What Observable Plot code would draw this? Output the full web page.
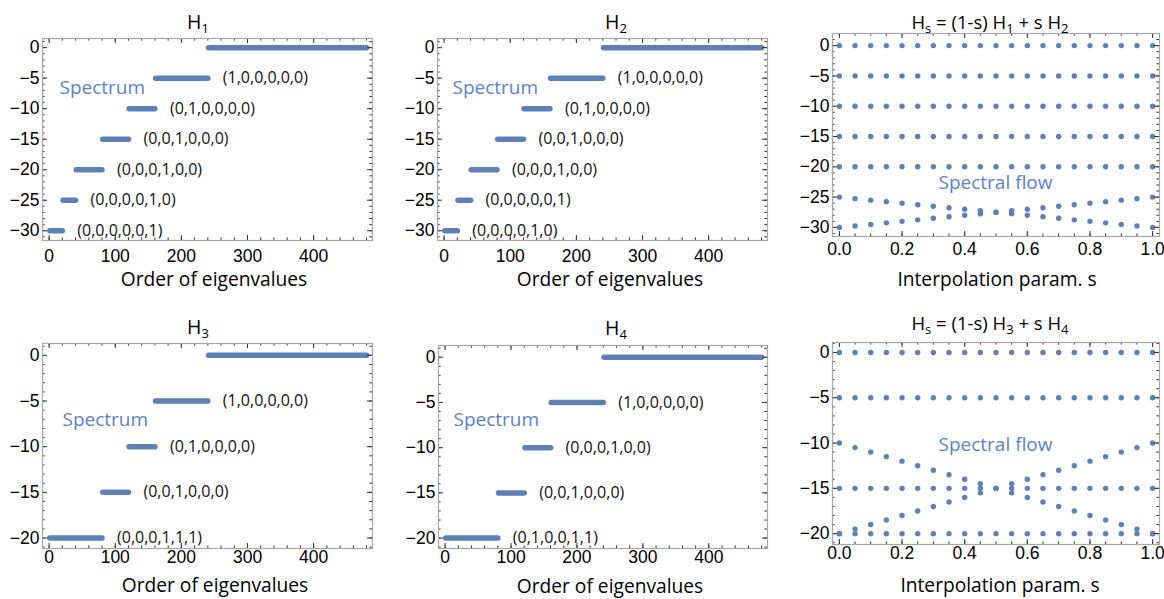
<!DOCTYPE html>
<html><head><meta charset="utf-8">
<script src="https://cdn.jsdelivr.net/npm/d3@7"></script>
<script src="https://cdn.jsdelivr.net/npm/@observablehq/plot@0.6"></script>
<style>
body{margin:0;background:#fff;}
#root{position:relative;width:1164px;height:599px;overflow:hidden;background:#fff;}
</style></head><body><div id="root"></div>
<script>
// ---------- data ----------
const sValues = [0,0.05,0.1,0.15,0.2,0.25,0.3,0.35,0.4,0.45,0.5,0.55,0.6,0.65,0.7,0.75,0.8,0.85,0.9,0.95,1];

const h1Levels = [0,-5,-10,-15,-20,-25,-30];
const h1Start  = [241,161,121,81,41,21,1];
const h1End    = [480,240,160,120,80,40,20];
const h1Labels = ["","(1,0,0,0,0,0)","(0,1,0,0,0,0)","(0,0,1,0,0,0)","(0,0,0,1,0,0)","(0,0,0,0,1,0)","(0,0,0,0,0,1)"];
const h2Labels = ["","(1,0,0,0,0,0)","(0,1,0,0,0,0)","(0,0,1,0,0,0)","(0,0,0,1,0,0)","(0,0,0,0,0,1)","(0,0,0,0,1,0)"];

const h3Levels = [0,-5,-10,-15,-20];
const h3Start  = [241,161,121,81,1];
const h3End    = [480,240,160,120,80];
const h3Labels = ["","(1,0,0,0,0,0)","(0,1,0,0,0,0)","(0,0,1,0,0,0)","(0,0,0,1,1,1)"];
const h4Labels = ["","(1,0,0,0,0,0)","(0,0,0,1,0,0)","(0,0,1,0,0,0)","(0,1,0,0,1,1)"];

const flow1Flat  = [0,-5,-10,-15,-20];
const flow1Upper = [-25,-25.25,-25.5,-25.75,-26,-26.25,-26.5,-26.75,-27,-27.25,-27.5,-27.25,-27,-26.75,-26.5,-26.25,-26,-25.75,-25.5,-25.25,-25];
const flow1Lower = [-30,-29.75,-29.5,-29.25,-29,-28.75,-28.5,-28.25,-28,-27.75,-27.5,-27.75,-28,-28.25,-28.5,-28.75,-29,-29.25,-29.5,-29.75,-30];

const flow2Flat = [0,-5,-15,-20];
const flow2Down = [-10,-10.5,-11,-11.5,-12,-12.5,-13,-13.5,-14,-14.5,-15,-14.5,-14,-13.5,-13,-12.5,-12,-11.5,-11,-10.5,-10];
const flow2Up   = [-20,-19.5,-19,-18.5,-18,-17.5,-17,-16.5,-16,-15.5,-15,-15.5,-16,-16.5,-17,-17.5,-18,-18.5,-19,-19.5,-20];

const xTicksSpec = [0,100,200,300,400];
const xTicksFlow = [0,0.2,0.4,0.6,0.8,1.0];
const yTicks30 = [0,-5,-10,-15,-20,-25,-30];
const yTicks20 = [0,-5,-10,-15,-20];

// ---------- helpers ----------
const blue = "#5e81b5";
const annBlue = "#5a84c8";
const root = document.getElementById("root");
const fmtY = d => d < 0 ? "\u2212" + (-d) : String(d);
const fmtS = d => d.toFixed(1);
const fmtX = d => String(d);
const xMinorSpec = d3.range(0, 481, 20);
const xMinorFlow = d3.range(0, 21).map(i => i * 0.05);
const yMinor = d3.range(-31, 2, 1);

function specRows(levels, starts, ends, labels) {
  return levels.map((l, i) => ({level: l, start: starts[i], end: ends[i], label: labels[i]}));
}
function flowRows(flat, a, b) {
  const rows = [];
  sValues.forEach((s, i) => {
    flat.forEach(e => rows.push({s, e}));
    rows.push({s, e: a[i]});
    rows.push({s, e: b[i]});
  });
  return rows;
}

function panel(cfg) {
  const {left, top, width, height, mL, mR, mT, mB, xDomain, yDomain, xMajor, xMinor, yMajor, xFmt, xPad, marks} = cfg;
  const FW = width - mL - mR, FH = height - mT - mB;
  const inX = v => v >= xDomain[0] && v <= xDomain[1];
  const inY = v => v >= yDomain[0] && v <= yDomain[1];
  const tc = "#333";
  const maj = 5, mnr = 2.6;
  const tx = (vals, len, side) => Plot.tickX(vals.filter(inX), {x: d => d, stroke: tc, strokeWidth: 1,
    [side === "bottom" ? "insetTop" : "insetBottom"]: FH - len});
  const ty = (vals, len, side) => Plot.tickY(vals.filter(inY), {y: d => d, stroke: tc, strokeWidth: 1,
    [side === "left" ? "insetRight" : "insetLeft"]: FW - len});
  const plot = Plot.plot({
    width, height, marginLeft: mL, marginRight: mR, marginTop: mT, marginBottom: mB,
    x: {domain: xDomain, axis: null},
    y: {domain: yDomain, axis: null},
    style: {fontFamily: "'Liberation Sans', Arial, sans-serif", background: "transparent", overflow: "visible"},
    marks: [
      ...marks,
      tx(xMinor, mnr, "bottom"), tx(xMinor, mnr, "top"), tx(xMajor, maj, "bottom"), tx(xMajor, maj, "top"),
      ty(yMinor, mnr, "left"), ty(yMinor, mnr, "right"), ty(yMajor, maj, "left"), ty(yMajor, maj, "right"),
      Plot.frame({stroke: "#a8a8a8", strokeWidth: 1.2}),
      Plot.axisX(xMajor, {anchor: "bottom", tickSize: 0, tickPadding: xPad, tickFormat: xFmt, fontSize: 17.5, label: null}),
      Plot.axisY(yMajor, {anchor: "left", tickSize: 0, tickPadding: 3, tickFormat: fmtY, fontSize: 17.5, label: null})
    ]
  });
  plot.style.position = "absolute";
  plot.style.left = left + "px";
  plot.style.top = top + "px";
  root.appendChild(plot);
}

function specMarks(rows, annDx, annDy) {
  return [
    Plot.link(rows, {x1: "start", x2: "end", y1: "level", y2: "level", stroke: blue, strokeWidth: 5.5, strokeLinecap: "round"}),
    Plot.text(rows.filter(d => d.label), {x: "end", y: "level", text: "label", dx: 15, textAnchor: "start",
      lineAnchor: "middle", fontSize: 16, fontFamily: "Open Sans", fill: "#111"}),
    Plot.text(["Spectrum"], {frameAnchor: "top-left", dx: annDx, dy: annDy, text: d => d, textAnchor: "start",
      lineAnchor: "middle", fontSize: 19, fontFamily: "Open Sans", fill: annBlue})
  ];
}
function flowMarks(rows, annDx, annDy) {
  return [
    Plot.dot(rows, {x: "s", y: "e", r: 2.7, fill: blue}),
    Plot.text(["Spectral flow"], {frameAnchor: "top-left", dx: annDx, dy: annDy, text: d => d, textAnchor: "middle",
      lineAnchor: "middle", fontSize: 19, fontFamily: "Open Sans", fill: annBlue})
  ];
}

const specX = [-10, 489];

// Top row
panel({left: 0, top: 0, width: 390, height: 300, mL: 42, mR: 18, mT: 38, mB: 60,
  xDomain: specX, yDomain: [-31.6, 1.5], xMajor: xTicksSpec, xMinor: xMinorSpec, yMajor: yTicks30,
  xFmt: fmtX, xPad: 9, marks: specMarks(specRows(h1Levels, h1Start, h1End, h1Labels), 17, 49)});
panel({left: 390, top: 0, width: 390, height: 300, mL: 47, mR: 13, mT: 38, mB: 60,
  xDomain: specX, yDomain: [-31.6, 1.5], xMajor: xTicksSpec, xMinor: xMinorSpec, yMajor: yTicks30,
  xFmt: fmtX, xPad: 9, marks: specMarks(specRows(h1Levels, h1Start, h1End, h2Labels), 15, 49)});
panel({left: 780, top: 0, width: 384, height: 300, mL: 52, mR: 5, mT: 33, mB: 64,
  xDomain: [-0.022, 1.022], yDomain: [-31.5, 2.0], xMajor: xTicksFlow, xMinor: xMinorFlow, yMajor: yTicks30,
  xFmt: fmtS, xPad: 6, marks: flowMarks(flowRows(flow1Flat, flow1Upper, flow1Lower), 163, 149)});

// Bottom row
panel({left: 0, top: 300, width: 390, height: 299, mL: 42, mR: 18, mT: 43, mB: 51,
  xDomain: specX, yDomain: [-21.15, 1.3], xMajor: xTicksSpec, xMinor: xMinorSpec, yMajor: yTicks20,
  xFmt: fmtX, xPad: 2, marks: specMarks(specRows(h3Levels, h3Start, h3End, h3Labels), 20, 76)});
panel({left: 390, top: 300, width: 390, height: 299, mL: 48, mR: 13, mT: 45, mB: 51,
  xDomain: specX, yDomain: [-21.15, 1.3], xMajor: xTicksSpec, xMinor: xMinorSpec, yMajor: yTicks20,
  xFmt: fmtX, xPad: 2, marks: specMarks(specRows(h3Levels, h3Start, h3End, h4Labels), 15, 74)});
panel({left: 780, top: 300, width: 384, height: 299, mL: 52, mR: 5, mT: 42, mB: 55,
  xDomain: [-0.022, 1.022], yDomain: [-21.2, 1.1], xMajor: xTicksFlow, xMinor: xMinorFlow, yMajor: yTicks20,
  xFmt: fmtS, xPad: 2, marks: flowMarks(flowRows(flow2Flat, flow2Down, flow2Up), 163, 102)});

// ---------- titles and axis labels ----------
const ov = d3.select(root).append("svg").attr("width", 1164).attr("height", 599)
  .style("position", "absolute").style("left", "0px").style("top", "0px").style("pointer-events", "none");

function rich(x, y, parts, size) {
  const t = ov.append("text").attr("x", x).attr("y", y).attr("text-anchor", "middle")
    .attr("font-family", "Open Sans").attr("font-size", size).attr("fill", "#000").style("white-space", "pre");
  let inSub = false;
  parts.forEach(([s, sub]) => {
    const ts = t.append("tspan").text(s);
    if (sub && !inSub) { ts.attr("dy", 4).attr("font-size", 13); inSub = true; }
    else if (sub) { ts.attr("font-size", 13); }
    else if (!sub && inSub) { ts.attr("dy", -4); inSub = false; }
  });
}
rich(198, 28.5, [["H"], ["1", 1]], 19.5);
rich(616, 28.5, [["H"], ["2", 1]], 19.5);
rich(990, 29, [["H"], ["s", 1], [" = (1-s) H"], ["1", 1], [" + s H"], ["2", 1]], 18.5);
rich(198, 334, [["H"], ["3", 1]], 19.5);
rich(616, 335, [["H"], ["4", 1]], 19.5);
rich(990, 330, [["H"], ["s", 1], [" = (1-s) H"], ["3", 1], [" + s H"], ["4", 1]], 18.5);

rich(214, 285.5, [["Order of eigenvalues"]], 19.2);
rich(610, 285.5, [["Order of eigenvalues"]], 19.2);
rich(997, 285.5, [["Interpolation param. s"]], 19.2);
rich(215, 591.5, [["Order of eigenvalues"]], 19.2);
rich(610, 593, [["Order of eigenvalues"]], 19.2);
rich(1000, 591.5, [["Interpolation param. s"]], 19.2);
</script></body></html>
